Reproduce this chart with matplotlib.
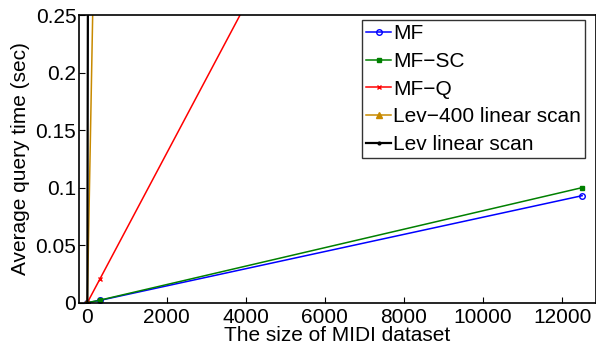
import matplotlib
matplotlib.use("Agg")
import matplotlib.pyplot as plt
from matplotlib.ticker import FixedLocator, FixedFormatter

plt.rcParams['font.family'] = ['Liberation Sans', 'DejaVu Sans']
fs = 15

sizes = [0, 318, 12500]
mf = [0.0, 0.002, 0.093]
mf_sc = [0.0, 0.0022, 0.100]
mf_q = [0.0, 0.0206, 0.81]
lev400 = [0.0, 0.59, 23.3]
lev = [0.0, 6.0, 235.0]

xticks = [0, 2000, 4000, 6000, 8000, 10000, 12000]
yticks = [0, 0.05, 0.1, 0.15, 0.2, 0.25]
ytick_labels = ["0", "0.05", "0.1", "0.15", "0.2", "0.25"]

fig = plt.figure(figsize=(5.96, 3.47), dpi=100)
ax = fig.add_axes([0.1326, 0.1277, 0.8674, 0.829])

ax.plot(sizes, mf, color='blue', marker='o', markersize=4, markerfacecolor='none', lw=1.1, label='MF')
ax.plot(sizes, mf_sc, color='green', marker='s', markersize=2.5, lw=1.1, label='MF\u2212SC')
ax.plot(sizes, mf_q, color='red', marker='x', markersize=3, lw=1.1, label='MF\u2212Q')
ax.plot(sizes, lev400, color='#c88a00', marker='^', markersize=4, lw=1.1, label='Lev\u2212400 linear scan')
ax.plot(sizes, lev, color='black', marker='.', markersize=4, lw=1.6, label='Lev linear scan')

ax.set_xlim(-210, 12850)
ax.set_ylim(0, 0.25)
ax.xaxis.set_major_locator(FixedLocator(xticks))
ax.yaxis.set_major_locator(FixedLocator(yticks))
ax.yaxis.set_major_formatter(FixedFormatter(ytick_labels))
ax.tick_params(direction='in', labelsize=fs, length=4, width=0.8)
ax.tick_params(axis='x', pad=4)
ax.tick_params(axis='y', pad=2)
for s in ax.spines.values():
    s.set_linewidth(1.2)

ax.set_xlabel('The size of MIDI dataset', fontsize=fs, labelpad=-1)
ax.set_ylabel('Average query time (sec)', fontsize=fs, labelpad=4)

leg = ax.legend(loc='upper right', fontsize=fs, frameon=True, fancybox=False,
                edgecolor='black', handlelength=1.2, handletextpad=0.1,
                borderpad=0.2, labelspacing=0.42, borderaxespad=0.0,
                bbox_to_anchor=(0.979, 0.983))
leg.get_frame().set_linewidth(1.0)

fig.savefig('out.png', dpi=100)
